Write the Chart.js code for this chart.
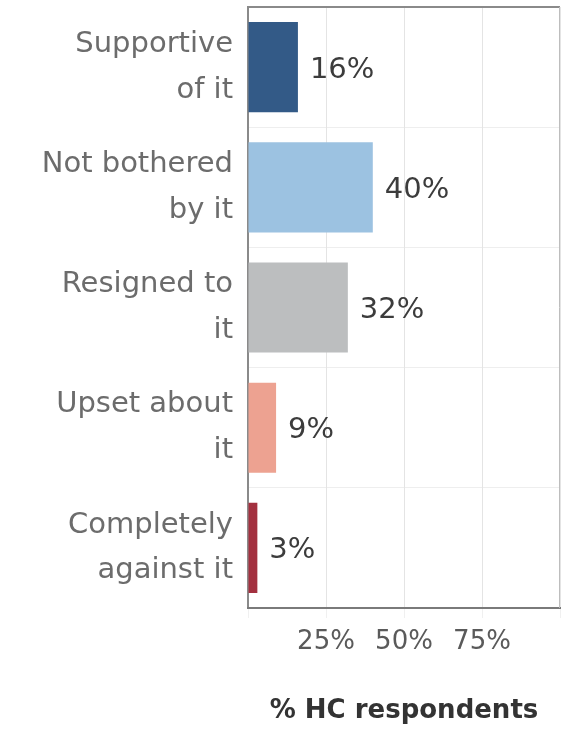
<!DOCTYPE html>
<html>
<head>
<meta charset="utf-8">
<script src="https://cdn.jsdelivr.net/npm/chart.js@4"></script>
<style>
html,body{margin:0;padding:0;background:#fff;}
#wrap{width:561px;height:731px;position:relative;}
</style>
</head>
<body>
<div id="wrap"><canvas id="c" width="561" height="731"></canvas></div>
<script>
const categories = [
  ["Supportive", "of it"],
  ["Not bothered", "by it"],
  ["Resigned to", "it"],
  ["Upset about", "it"],
  ["Completely", "against it"]
];
const values = [16, 40, 32, 9, 3];
const barColors = ["#335a87", "#9cc2e1", "#bcbebf", "#eda291", "#a3303f"];
const tickLabels = {25: "25%", 50: "50%", 75: "75%"};
const axisTitle = "% HC respondents";

const FONT = "'DejaVu Sans', sans-serif";

const valueLabels = {
  id: "valueLabels",
  afterDatasetsDraw(chart) {
    const ctx = chart.ctx;
    const meta = chart.getDatasetMeta(0);
    ctx.save();
    ctx.font = "29px " + FONT;
    ctx.fillStyle = "#3c3c3c";
    ctx.textAlign = "left";
    ctx.textBaseline = "middle";
    meta.data.forEach((bar, i) => {
      ctx.fillText(values[i] + "%", bar.x + 12, bar.y + 3);
    });
    ctx.restore();
  }
};
const frame = {
  id: "frame",
  afterDraw(chart) {
    const a = chart.chartArea;
    const ctx = chart.ctx;
    ctx.save();
    ctx.strokeStyle = "#8a8a8a";
    ctx.lineWidth = 2;
    ctx.beginPath();
    ctx.moveTo(a.left, a.top); ctx.lineTo(a.right, a.top);
    ctx.stroke();
    ctx.strokeStyle = "#bdbdbd";
    ctx.lineWidth = 1;
    ctx.beginPath();
    ctx.moveTo(a.right - 0.5, a.top); ctx.lineTo(a.right - 0.5, a.bottom);
    ctx.stroke();
    ctx.restore();
  }
};

new Chart(document.getElementById("c"), {
  type: "bar",
  data: {
    labels: categories,
    datasets: [{
      data: values,
      backgroundColor: barColors,
      borderWidth: 0,
      categoryPercentage: 0.75,
      barPercentage: 1.0
    }]
  },
  options: {
    indexAxis: "y",
    responsive: false,
    animation: false,
    events: [],
    layout: { padding: { top: 7, right: 1, left: 0, bottom: 0 } },
    plugins: { legend: { display: false }, tooltip: { enabled: false } },
    scales: {
      y: {
        type: "category",
        afterFit(s) { s.width = 248; s.paddingTop = 0; s.paddingBottom = 0; },
        grid: { color: "#eeeeee", lineWidth: 1, offset: true, drawTicks: false },
        border: { color: "#8a8a8a", width: 2 },
        ticks: {
          color: "#6c6c6c",
          font: { family: FONT, size: 29, lineHeight: 1.58 },
          padding: 15
        }
      },
      x: {
        min: 0, max: 100,
        afterFit(s) { s.height = 123; s.paddingLeft = 0; s.paddingRight = 0; },
        grid: { color: "#e4e4e4", lineWidth: 1, drawTicks: true, tickLength: 10, tickColor: "#f0f0f0" },
        border: { color: "#7a7a7a", width: 2 },
        ticks: {
          stepSize: 25,
          color: "#5a5a5a",
          font: { family: FONT, size: 26 },
          padding: 9,
          maxRotation: 0,
          autoSkip: false,
          callback: (v) => tickLabels[v] || ""
        },
        title: {
          display: true,
          text: axisTitle,
          color: "#333333",
          font: { family: FONT, size: 26, weight: "bold" },
          padding: { top: 20, bottom: 4 }
        }
      }
    }
  },
  plugins: [valueLabels, frame]
});
</script>
</body>
</html>
